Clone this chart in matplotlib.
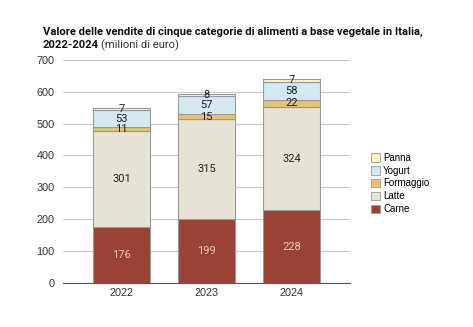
import numpy as np
from matplotlib import pyplot as plt
from matplotlib.patches import Patch
from matplotlib.transforms import offset_copy

years = ['2022', '2023', '2024']
carne = [176, 199, 228]
latte = [301, 315, 324]
formaggio = [11, 15, 22]
yogurt = [53, 57, 58]
panna = [7, 8, 7]

series = [('Carne', carne, '#9a4236', '#f0c8bc'),
          ('Latte', latte, '#e6e2d6', '#222222'),
          ('Formaggio', formaggio, '#e6c56a', '#222222'),
          ('Yogurt', yogurt, '#d3e9f0', '#222222'),
          ('Panna', panna, '#fbf1cb', '#222222')]

plt.rcParams['font.family'] = ['Liberation Sans', 'DejaVu Sans']

fig = plt.figure(figsize=(4.73, 3.27), dpi=100)
ax = fig.add_axes([0.133, 0.135, 0.607, 0.682])

x = np.arange(len(years))
bottom = np.zeros(len(years))
for name, vals, col, tcol in series:
    ax.bar(x, vals, 0.67, bottom=bottom, color=col, edgecolor='#9a9a9a',
           linewidth=0.8, zorder=3)
    for xi, b, v in zip(x, bottom, vals):
        ax.text(xi, b + v / 2, str(v), ha='center', va='center',
                fontsize=8, color=tcol, zorder=4, family='Roboto')
    bottom += np.array(vals)

ax.set_xlim(-0.69, 2.69)
ax.set_ylim(0, 700)
ax.set_yticks(range(0, 701, 100))
ax.set_xticks(x)
ax.set_xticklabels(years)
ax.grid(axis='y', color='#cccccc', linewidth=0.8, zorder=0)
for s in ['top', 'right', 'left']:
    ax.spines[s].set_visible(False)
ax.spines['bottom'].set_color('#555555')
ax.tick_params(axis='both', length=0, labelsize=7.8, colors='#333333')
ax.tick_params(axis='y', pad=6)

handles = [Patch(facecolor=col, edgecolor='#9a9a9a', linewidth=0.6, label=name)
           for name, vals, col, tcol in reversed(series)]
fig.legend(handles=handles, loc='upper left', bbox_to_anchor=(0.765, 0.56),
           frameon=False, fontsize=7, handlelength=1.0, handleheight=1.0,
           handletextpad=0.3, labelspacing=0.3)

fig.text(0.091, 0.895, 'Valore delle vendite di cinque categorie di alimenti a base vegetale in Italia,',
         fontsize=8.1, fontweight='bold', color='#111111', family='Roboto')
t = fig.text(0.091, 0.852, '2022-2024', fontsize=8.1, fontweight='bold',
             color='#111111', family='Roboto')
fig.canvas.draw()
w = t.get_window_extent().width
fig.text(0.091, 0.852, '(milioni di euro)', fontsize=8.1, color='#333333',
         family='Roboto',
         transform=offset_copy(fig.transFigure, fig=fig, x=w * 72 / fig.dpi + 1.5, units='points'))

fig.savefig('out.png', dpi=100)
